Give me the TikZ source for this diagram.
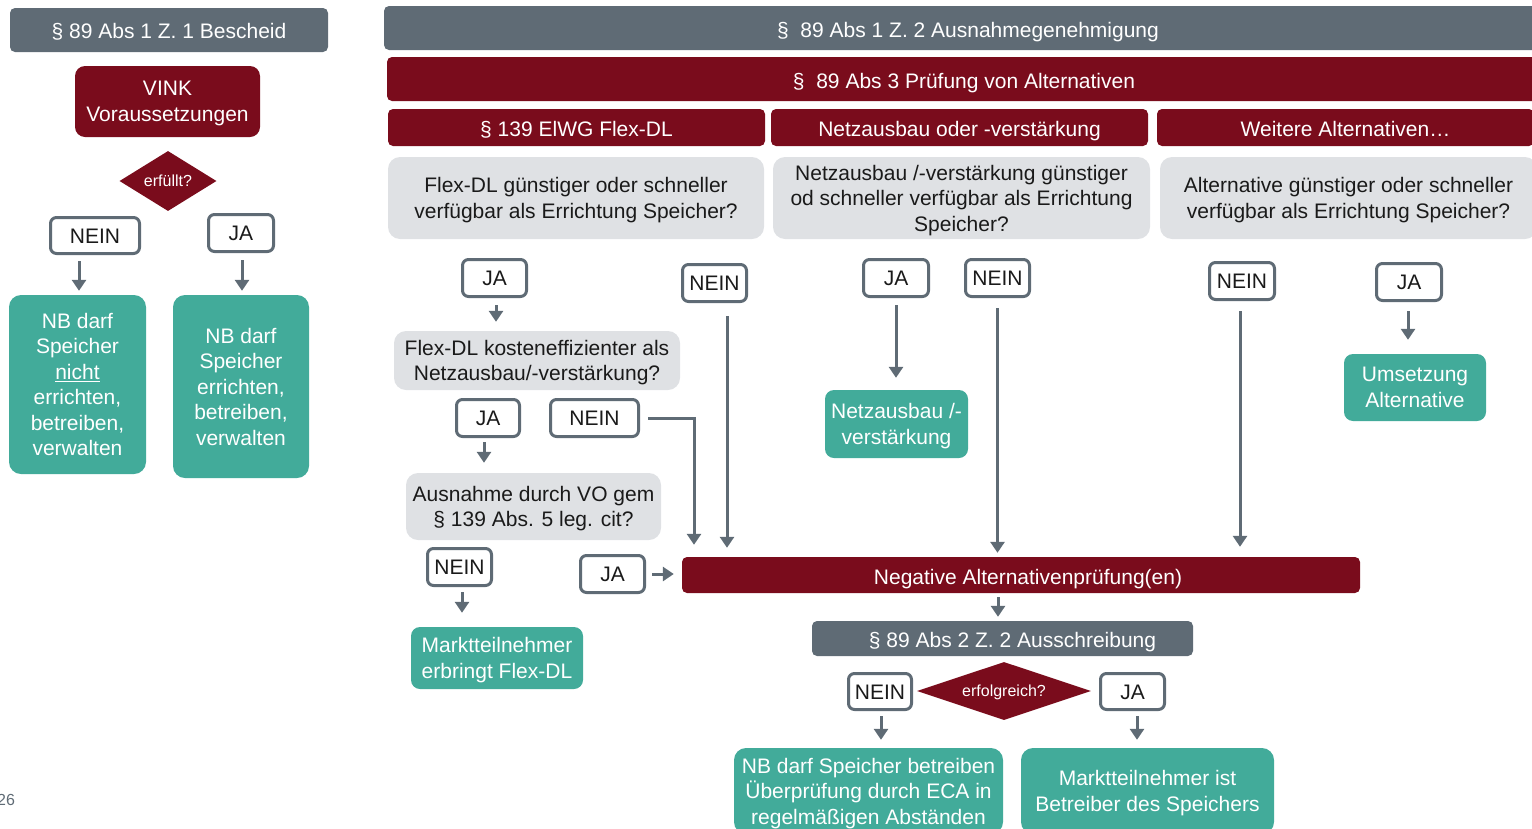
\documentclass[tikz,border=0pt]{standalone}
\usepackage{fontspec}
\setmainfont{Liberation Sans}
\usetikzlibrary{arrows.meta,shapes.geometric}
\definecolor{hdrgray}{HTML}{5F6B75}
\definecolor{darkred}{HTML}{7A0C1C}
\definecolor{tealc}{HTML}{42AB9A}
\definecolor{lightg}{HTML}{DFE1E4}
\definecolor{txtc}{HTML}{1A1A1A}
\tikzset{
  plain/.style={inner sep=0pt, align=center, font=\fontsize{21}{25.5}\selectfont},
  base/.style={plain, execute at begin node={\rule{0pt}{20.5pt}}, execute at end node={\rule[-5.5pt]{0pt}{0pt}}},
  baselow/.style={plain, execute at begin node={\rule{0pt}{22.5pt}}, execute at end node={\rule[-4.5pt]{0pt}{0pt}}},
  basemulti/.style={plain, text depth=-4pt},
  hdr/.style={baselow, fill=hdrgray, text=white, rounded corners=5pt},
  redbox/.style={baselow, fill=darkred, text=white, rounded corners=5pt},
  vinkbox/.style={basemulti, fill=darkred, text=white, rounded corners=10pt},
  greybox/.style={basemulti, fill=lightg, text=txtc, rounded corners=12pt},
  tealbox/.style={basemulti, fill=tealc, text=white, rounded corners=12pt},
  lbl/.style={base, draw=hdrgray, line width=3pt, fill=white, text=txtc, rounded corners=6pt},
  dia/.style={diamond, fill=darkred, text=white, inner sep=0pt, font=\fontsize{16}{18}\selectfont, execute at begin node={\rule{0pt}{15.5pt}}, execute at end node={\rule[-4pt]{0pt}{0pt}}},
  arr/.style={draw=hdrgray, line width=3pt, -{Triangle[width=14pt,length=11pt]}},
}
\begin{document}
\begin{tikzpicture}[x=1pt,y=-1pt]
\useasboundingbox (0,0) rectangle (1532,828);
% left column
\node[hdr, base, fill=hdrgray, minimum width=318pt, minimum height=44pt] (h1) at (169,30) {§ 89 Abs 1 Z. 1 Bescheid};
\node[vinkbox, minimum width=185pt, minimum height=71pt] (vink) at (167.5,101.5) {VINK\\Voraussetzungen};
\node[dia, aspect=1.6, minimum width=97pt, minimum height=60pt] (d1) at (168,181) {erfüllt?};
\node[lbl, minimum width=89pt, minimum height=36pt] (n1) at (95,235.5) {NEIN};
\node[lbl, minimum width=65pt, minimum height=37pt] (j1) at (241,233) {JA};
\node[tealbox, minimum width=137pt, minimum height=179pt] (t1) at (77.5,384.5) {NB darf\\Speicher\\\underline{nicht}\\errichten,\\betreiben,\\verwalten};
\node[tealbox, minimum width=136pt, minimum height=183pt] (t2) at (241,386.5) {NB darf\\Speicher\\errichten,\\betreiben,\\verwalten};
\draw[arr] ([xshift=-16pt,yshift=-6pt]n1.south) -- ([xshift=1.5pt,yshift=4pt]t1.north);
\draw[arr] ([xshift=1pt,yshift=-7pt]j1.south) -- ([xshift=1pt,yshift=4pt]t2.north);
% right headers
\node[hdr, minimum width=1168pt, minimum height=44pt] (h2) at (968,28) {§~ 89 Abs 1 Z. 2 Ausnahmegenehmigung};
\node[redbox, minimum width=1154pt, minimum height=44pt] (alt) at (964,79) {§~ 89 Abs 3 Prüfung von Alternativen};
\node[redbox, minimum width=377pt, minimum height=37pt] (c1) at (576.5,127.5) {§ 139 ElWG Flex-DL};
\node[redbox, minimum width=377pt, minimum height=37pt] (c2) at (959.5,127.5) {Netzausbau oder -verstärkung};
\node[redbox, minimum width=377pt, minimum height=37pt] (c3) at (1345.5,127.5) {Weitere Alternativen…};
\node[greybox, minimum width=376pt, minimum height=82pt] (q1) at (576,198) {Flex-DL günstiger oder schneller\\verfügbar als Errichtung Speicher?};
\node[greybox, minimum width=377pt, minimum height=82pt] (q2) at (961.5,198) {Netzausbau /-verstärkung günstiger\\od schneller verfügbar als Errichtung\\Speicher?};
\node[greybox, minimum width=377pt, minimum height=82pt] (q3) at (1348.5,198) {Alternative günstiger oder schneller\\verfügbar als Errichtung Speicher?};
% column 1
\node[lbl, minimum width=64pt, minimum height=37pt] (ja1) at (494.5,278) {JA};
\node[lbl, minimum width=64pt, minimum height=37pt] (nein1) at (714.5,283) {NEIN};
\node[greybox, minimum width=286pt, minimum height=59pt] (flex) at (537,360.5) {Flex-DL kosteneffizienter als\\Netzausbau/-verstärkung?};
\node[lbl, minimum width=63pt, minimum height=37pt] (ja2) at (488,418) {JA};
\node[lbl, minimum width=88pt, minimum height=37pt] (nein2) at (594.5,418) {NEIN};
\node[greybox, minimum width=255pt, minimum height=67pt] (ausn) at (533.5,506.5) {Ausnahme durch VO gem\\§ 139 Abs. 5 leg. cit?};
\node[lbl, minimum width=64pt, minimum height=37pt] (nein3) at (459.5,567) {NEIN};
\node[lbl, minimum width=64pt, minimum height=37pt] (ja3) at (612.5,574) {JA};
\node[tealbox, minimum width=172pt, minimum height=62pt, rounded corners=9pt] (mt) at (497,658) {Marktteilnehmer\\erbringt Flex-DL};
% column 2
\node[lbl, minimum width=65pt, minimum height=37pt] (ja4) at (896,278) {JA};
\node[lbl, minimum width=64pt, minimum height=37pt] (nein4) at (997.5,278) {NEIN};
\node[tealbox, minimum width=143pt, minimum height=68pt, rounded corners=9pt] (nz) at (896.5,424) {Netzausbau /-\\verstärkung};
% column 3
\node[lbl, minimum width=65pt, minimum height=37pt] (nein5) at (1242,281) {NEIN};
\node[lbl, minimum width=65pt, minimum height=37pt] (ja5) at (1409,282) {JA};
\node[tealbox, minimum width=142pt, minimum height=67pt, rounded corners=9pt] (ua) at (1415,387.5) {Umsetzung\\Alternative};
% negative bar and tender
\node[redbox, minimum width=678pt, minimum height=36pt] (neg) at (1021,575) {\hspace*{14pt}Negative Alternativenprüfung(en)};
\node[hdr, minimum width=381pt, minimum height=35pt] (aus) at (1002.5,638.5) {\hspace*{20pt}§ 89 Abs 2 Z. 2 Ausschreibung};
\node[dia, aspect=3, minimum width=174pt, minimum height=58pt] (d2) at (1004,691) {erfolgreich?};
\node[lbl, minimum width=63pt, minimum height=36pt] (nein6) at (880,691.5) {NEIN};
\node[lbl, minimum width=64pt, minimum height=36pt] (ja6) at (1132.5,691.5) {JA};
\node[tealbox, minimum width=269pt, minimum height=86pt] (r1) at (868.5,791) {NB darf Speicher betreiben\\Überprüfung durch ECA in\\regelmäßigen Abständen};
\node[tealbox, minimum width=253pt, minimum height=86pt] (r2) at (1147.5,791) {Marktteilnehmer ist\\Betreiber des Speichers};
% page number
\node[plain, anchor=west, text=hdrgray, font=\fontsize{16}{18}\selectfont] (pg) at (-3,800) {26};
% connectors
\draw[arr] ([xshift=1.5pt,yshift=-7pt]ja1.south) -- ([xshift=-41pt,yshift=9pt]flex.north);
\coordinate (nein1top) at ([xshift=12.5pt,yshift=-13pt]nein1.south);
\draw[arr] (nein1top) -- ([yshift=9pt]nein1top |- neg.north);
\draw[arr] ([xshift=-4pt,yshift=-4pt]ja2.south) -- ([xshift=-49.5pt,yshift=10pt]ausn.north);
\coordinate (n2a) at ([xshift=8pt]nein2.east);
\coordinate (n2corner) at (694,418);
\draw[arr] (n2a) -- (n2corner) -- ([yshift=12pt]n2corner |- neg.north);
\draw[arr] ([xshift=2.5pt,yshift=-5pt]nein3.south) -- ([xshift=-35pt,yshift=14pt]mt.north);
\draw[arr] ([xshift=6pt]ja3.east) -- ([xshift=-8pt]ja3.east -| neg.west);
\draw[arr] ([yshift=-7pt]ja4.south) -- ([yshift=12pt]ja4.south |- nz.north);
\draw[arr] ([yshift=-10pt]nein4.south) -- ([yshift=4pt]nein4.south |- neg.north);
\draw[arr] ([xshift=-2pt,yshift=-10pt]nein5.south) -- ([xshift=-2pt,yshift=10pt]nein5.south |- neg.north);
\draw[arr] ([xshift=-1pt,yshift=-9pt]ja5.south) -- ([xshift=-1pt,yshift=14pt]ja5.south |- ua.north);
\draw[arr] ([xshift=-23pt,yshift=-4pt]neg.south) -- ([xshift=-4.5pt,yshift=4pt]aus.north);
\draw[arr] ([xshift=1pt,yshift=-5pt]nein6.south) -- ([xshift=1pt,yshift=8pt]nein6.south |- r1.north);
\draw[arr] ([xshift=4.5pt,yshift=-5pt]ja6.south) -- ([xshift=4.5pt,yshift=8pt]ja6.south |- r2.north);
\end{tikzpicture}
\end{document}
